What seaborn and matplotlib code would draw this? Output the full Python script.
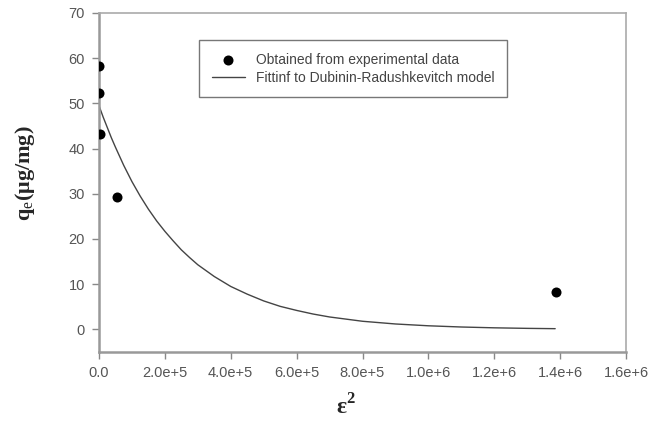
import matplotlib
matplotlib.use("Agg")
import matplotlib.pyplot as plt
import seaborn as sns
import pandas as pd

# experimental points (epsilon^2, qe)
eps2_exp = [0, 0, 3000, 54000, 1387000]
qe_exp = [58.2, 52.3, 43.3, 29.3, 8.3]

# fitted D-R curve
eps2_fit = [0, 12500, 25000, 37500, 50000, 62500, 75000, 87500, 100000, 125000, 150000,
            175000, 200000, 225000, 250000, 275000, 300000, 350000, 400000, 450000,
            500000, 550000, 600000, 650000, 700000, 800000, 900000, 1000000,
            1100000, 1200000, 1300000, 1385000]
qe_fit = [49.5, 47.0, 44.7, 42.4, 40.3, 38.3, 36.3, 34.5, 32.7, 29.5, 26.6,
          24.0, 21.7, 19.6, 17.6, 15.9, 14.3, 11.7, 9.5, 7.8,
          6.3, 5.1, 4.2, 3.4, 2.75, 1.8, 1.2, 0.8,
          0.53, 0.35, 0.23, 0.16]

xticks = [0, 2e5, 4e5, 6e5, 8e5, 1e6, 1.2e6, 1.4e6, 1.6e6]
xtick_labels = ["0.0", "2.0e+5", "4.0e+5", "6.0e+5", "8.0e+5", "1.0e+6", "1.2e+6", "1.4e+6", "1.6e+6"]
yticks = [0, 10, 20, 30, 40, 50, 60, 70]

exp_df = pd.DataFrame({"eps2": eps2_exp, "qe": qe_exp})
fit_df = pd.DataFrame({"eps2": eps2_fit, "qe": qe_fit})

sns.set_style("white")
plt.rcParams["font.family"] = ["Liberation Sans", "DejaVu Sans"]
plt.rcParams["mathtext.fontset"] = "custom"
plt.rcParams["mathtext.rm"] = "Liberation Serif"
plt.rcParams["mathtext.bf"] = "Liberation Serif:bold"

fig = plt.figure(figsize=(6.56, 4.23), dpi=100)
ax = fig.add_axes([99 / 656, 1 - 352 / 423, 527 / 656, 339 / 423])

sns.lineplot(data=fit_df, x="eps2", y="qe", ax=ax, color="#444444", linewidth=1.0,
             label="Fittinf to Dubinin-Radushkevitch model", sort=False)
sns.scatterplot(data=exp_df, x="eps2", y="qe", ax=ax, color="black", s=52,
                edgecolor="black", linewidth=0, zorder=5,
                label="Obtained from experimental data")

ax.set_xlim(0, 1.6e6)
ax.set_ylim(-5, 70)
ax.set_xticks(xticks)
ax.set_xticklabels(xtick_labels)
ax.set_yticks(yticks)
ax.tick_params(axis="both", which="both", direction="out", length=5, width=1,
               color="#888888", labelcolor="#555555", labelsize=10.5, pad=5,
               bottom=True, left=True)

for side in ["top", "right"]:
    ax.spines[side].set_color("#aaaaaa")
    ax.spines[side].set_linewidth(1.2)
for side in ["left", "bottom"]:
    ax.spines[side].set_color("#999999")
    ax.spines[side].set_linewidth(1.8)

ax.set_xlabel("ε$^\\mathbf{2}$", fontsize=17, fontweight="bold", family="Liberation Serif")
ax.set_ylabel("q$_\\mathrm{e}$(μg/mg)", fontsize=16, fontweight="bold", family="Liberation Serif")
ax.xaxis.set_label_coords((346 - 99) / 527, -0.125)
ax.yaxis.set_label_coords(-0.118, (352 - 173) / 339)

handles, labels = ax.get_legend_handles_labels()
order = [1, 0]
leg = ax.legend([handles[i] for i in order], [labels[i] for i in order],
                loc="upper left", bbox_to_anchor=(0.19, 0.92), fontsize=10,
                frameon=True, fancybox=False, edgecolor="#555555",
                borderpad=0.9, handlelength=2.4, labelspacing=0.3,
                labelcolor="#444444", borderaxespad=0)
leg.get_frame().set_linewidth(1.0)

fig.savefig("out.png", dpi=100)
plt.close(fig)
